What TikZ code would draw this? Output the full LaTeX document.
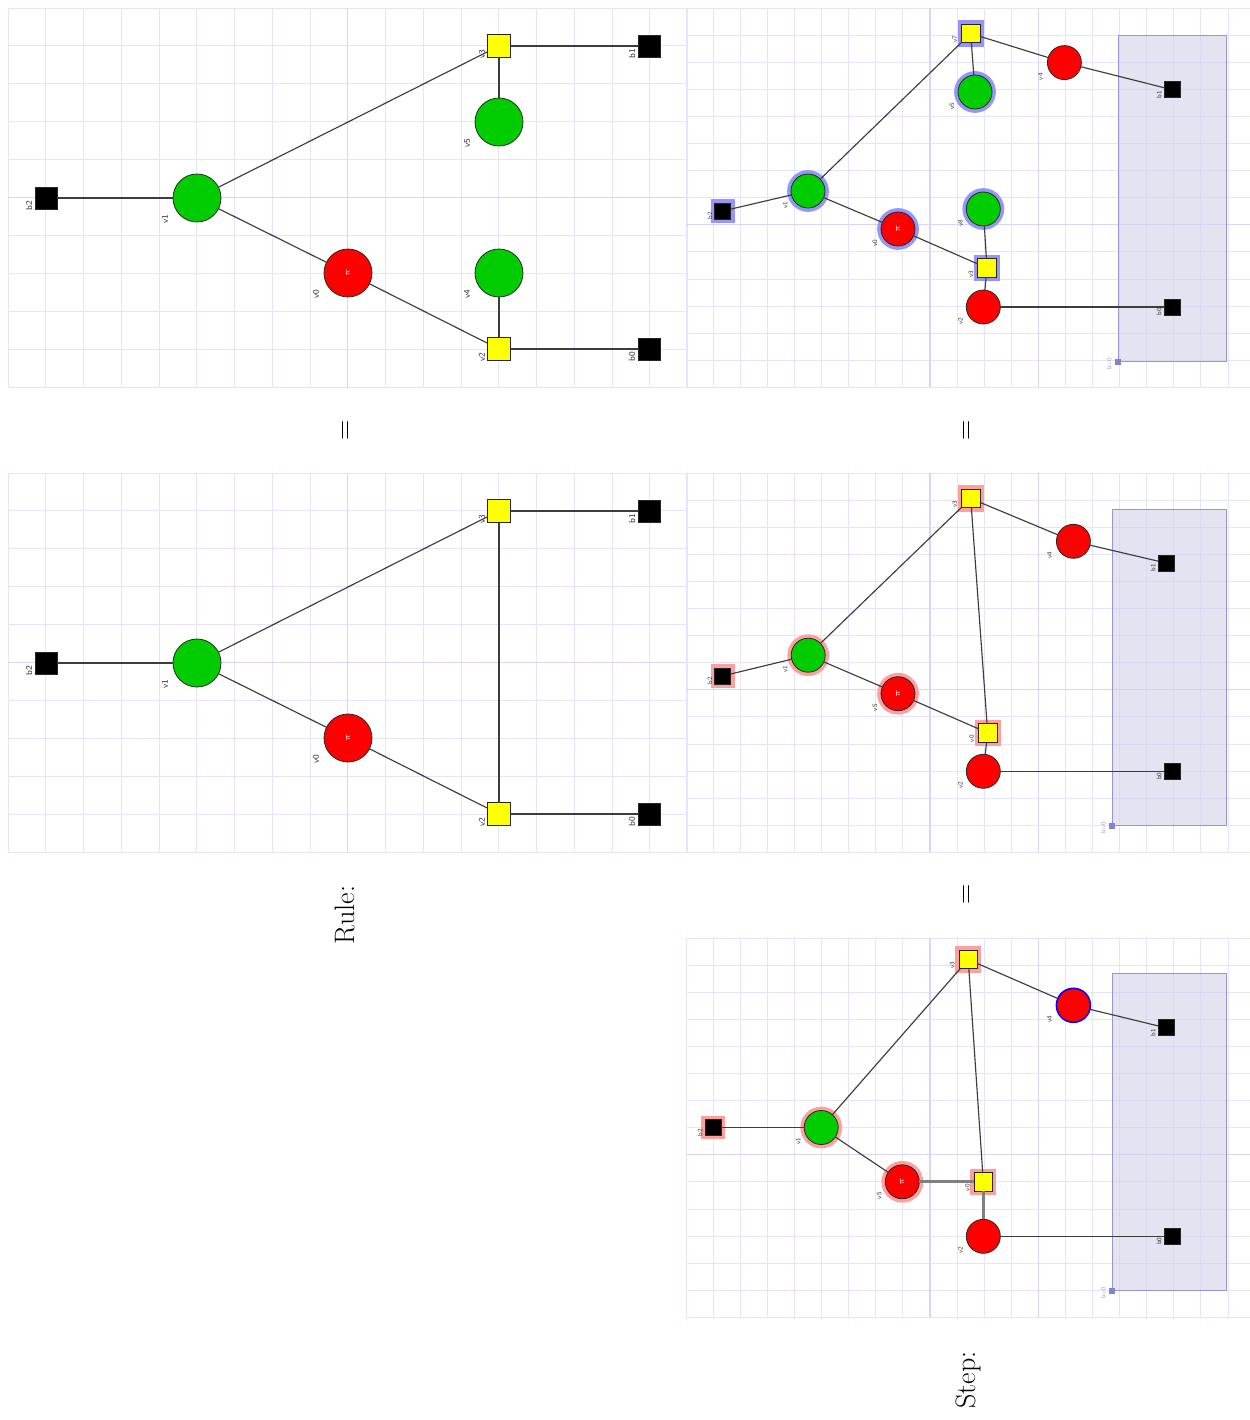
\documentclass[tikz,border=0pt]{standalone}
\definecolor{gridc}{RGB}{228,228,252}
\definecolor{gridd}{RGB}{214,214,242}
\definecolor{ngreen}{RGB}{0,204,0}
\definecolor{nred}{RGB}{255,0,0}
\definecolor{nyellow}{RGB}{255,255,0}
\definecolor{haloB}{RGB}{150,150,250}
\definecolor{haloP}{RGB}{255,160,160}
\definecolor{boxf}{RGB}{212,212,236}
\definecolor{boxd}{RGB}{150,150,215}
\definecolor{boxm}{RGB}{130,130,205}
\definecolor{edgec}{RGB}{60,60,60}
\tikzset{
 gl/.style={draw=gridc, line width=0.5pt},
 gd/.style={draw=gridd, line width=0.7pt},
 ed/.style={draw=edgec, line width=0.65pt},
 edthick/.style={draw=black!50, line width=1.5pt},
 vbase/.style={draw=black!85, line width=0.45pt, inner sep=0pt, outer sep=0pt},
 Lcirc/.style={vbase, circle, minimum size=0.96cm},
 Lsq/.style={vbase, rectangle, minimum size=0.46cm},
 Lbsq/.style={vbase, rectangle, minimum size=0.44cm, fill=black},
 Scirc/.style={vbase, circle, minimum size=0.68cm},
 Sysq/.style={vbase, rectangle, minimum size=0.37cm, fill=nyellow},
 Sbsq/.style={vbase, rectangle, minimum size=0.32cm, fill=black},
 hb/.style={preaction={draw=haloB, line width=4.4pt}},
 hp/.style={preaction={draw=haloP, line width=4.4pt}},
 labL/.style={font=\sffamily\fontsize{5}{5}\selectfont, rotate=90, inner sep=0pt, text=black!80},
 labS/.style={font=\sffamily\fontsize{3.8}{4}\selectfont, rotate=90, inner sep=0pt, text=black!80},
 labB/.style={font=\sffamily\fontsize{3.5}{4}\selectfont, rotate=90, inner sep=0pt, text=boxd},
 tinyw/.style={font=\fontsize{2.5}{3}\selectfont, text=white, rotate=90, inner sep=0pt},
 bigt/.style={font=\fontsize{16}{19}\selectfont, rotate=90, inner sep=0pt},
 bx/.style={fill=boxf, fill opacity=0.65, draw=boxd, line width=0.6pt},
 bxm/.style={fill=boxm, draw=none, minimum size=0.12cm, inner sep=0pt},
}
\newcommand{\vx}[7]{\node[#1] (#2) at (#3,#4) {}; \node[#5] (#2-l) at ([shift={(#6)}]#2.center) {#7};}
\newcommand{\lgrid}[1]{%
 \foreach \k in {0,...,18} {\draw[gl] ({8+37.75*\k},#1) -- ({8+37.75*\k},{#1+379});}
 \foreach \k in {0,...,10} {\draw[gl] (8,{#1+37.9*\k}) -- (687,{#1+37.9*\k});}
 \draw[gd] ({8+37.75*9},#1) -- ({8+37.75*9},{#1+379});
 \draw[gd] (8,{#1+37.9*5}) -- (687,{#1+37.9*5});}
\newcommand{\rgrid}[1]{%
 \foreach \k in {0,...,20} {\draw[gl] ({686+27.1*\k},#1) -- ({686+27.1*\k},{#1+379});}
 \foreach \k in {0,...,14} {\draw[gl] (686,{#1+27.1*\k}) -- (1250,{#1+27.1*\k});}
 \draw[gd] ({686+27.1*9},#1) -- ({686+27.1*9},{#1+379});
 \draw[gd] ({686+27.1*13},#1) -- ({686+27.1*13},{#1+379});
 \draw[gd] (686,{#1+27.1*8}) -- (1250,{#1+27.1*8});}
\begin{document}
\begin{tikzpicture}[x=0.02cm,y=-0.02cm]
\useasboundingbox (0,0) rectangle (1250,1420);
\fill[white] (0,0) rectangle (1250,1420);
% grids
\lgrid{8}
\lgrid{473}
\rgrid{8}
\rgrid{473}
\rgrid{938}
% boxes
\draw[bx] (1118.4,35.2) rectangle (1226.5,361.6);
\draw[bx] (1112.3,509.5) rectangle (1226.5,825.6);
\draw[bx] (1112.3,973.5) rectangle (1226.5,1290.6);
\node[bxm] (cm) at (1118.4,361.6) {};
\node[labB] (cm-l) at ([shift={(-9,2)}]cm.center) {b=0};
\node[bxm] (dm) at (1112.3,825.6) {};
\node[labB] (dm-l) at ([shift={(-9,2)}]dm.center) {b=0};
\node[bxm] (em) at (1112.3,1290.6) {};
\node[labB] (em-l) at ([shift={(-9,2)}]em.center) {b=0};
% ---------- Panel A (top-left) ----------
\vx{Lbsq}{ab2}{46}{198}{labL}{-17,8}{b2}
\vx{Lcirc,fill=ngreen}{av1}{197}{198}{labL}{-32,21}{v1}
\vx{Lcirc,fill=nred}{av0}{348}{273}{labL}{-32,21}{v0}
\node[tinyw] (av0t) at (av0) {$\pi$};
\vx{Lsq,fill=nyellow}{av3}{499}{46}{labL}{-17,8}{v3}
\vx{Lbsq}{ab1}{649}{46}{labL}{-17,8}{b1}
\vx{Lcirc,fill=ngreen}{av5}{499}{122}{labL}{-32,21}{v5}
\vx{Lcirc,fill=ngreen}{av4}{499}{273}{labL}{-32,21}{v4}
\vx{Lsq,fill=nyellow}{av2}{499}{349}{labL}{-17,8}{v2}
\vx{Lbsq}{ab0}{649}{349}{labL}{-17,8}{b0}
\draw[ed] (ab2) -- (av1);
\draw[ed] (av1) -- (av3);
\draw[ed] (av1) -- (av0);
\draw[ed] (av0) -- (av2);
\draw[ed] (av3) -- (av5);
\draw[ed] (av4) -- (av2);
\draw[ed] (av3) -- (ab1);
\draw[ed] (av2) -- (ab0);
% ---------- Panel B (middle-left) ----------
\vx{Lbsq}{bb2}{46}{663}{labL}{-17,8}{b2}
\vx{Lcirc,fill=ngreen}{bv1}{197}{663}{labL}{-32,21}{v1}
\vx{Lcirc,fill=nred}{bv0}{348}{738}{labL}{-32,21}{v0}
\node[tinyw] (bv0t) at (bv0) {$\pi$};
\vx{Lsq,fill=nyellow}{bv3}{499}{511}{labL}{-17,8}{v3}
\vx{Lbsq}{bb1}{649}{511}{labL}{-17,8}{b1}
\vx{Lsq,fill=nyellow}{bv2}{499}{814}{labL}{-17,8}{v2}
\vx{Lbsq}{bb0}{649}{814}{labL}{-17,8}{b0}
\draw[ed] (bb2) -- (bv1);
\draw[ed] (bv1) -- (bv3);
\draw[ed] (bv1) -- (bv0);
\draw[ed] (bv0) -- (bv2);
\draw[ed] (bv3) -- (bv2);
\draw[ed] (bv3) -- (bb1);
\draw[ed] (bv2) -- (bb0);
% ---------- Panel C (top-right) ----------
\vx{Sysq,hb}{cv7}{970.7}{33.5}{labS}{-16,6}{v7}
\vx{Scirc,fill=ngreen,hb}{cv5}{975}{92}{labS}{-23,14}{v5}
\vx{Scirc,fill=nred}{cv4}{1064.4}{62.6}{labS}{-24,14}{v4}
\vx{Sbsq}{cb1}{1172}{89.7}{labS}{-13,5}{b1}
\vx{Sbsq,hb}{cb2}{722.8}{211}{labS}{-13,5}{b2}
\vx{Scirc,fill=ngreen,hb}{cv1}{808}{191}{labS}{-23,14}{v1}
\vx{Scirc,fill=nred,hb}{cv0}{898}{229}{labS}{-23,14}{v0}
\node[tinyw] (cv0t) at (cv0) {$\pi$};
\vx{Scirc,fill=ngreen,hb}{cv8}{983.3}{209}{labS}{-23,14}{v8}
\vx{Sysq,hb}{cv3}{987}{268}{labS}{-16,6}{v3}
\vx{Scirc,fill=nred}{cv2}{983.3}{307}{labS}{-23,14}{v2}
\vx{Sbsq}{cb0}{1172}{307}{labS}{-13,5}{b0}
\draw[ed] (cb2) -- (cv1);
\draw[ed] (cv1) -- (cv7);
\draw[ed] (cv1) -- (cv0);
\draw[ed] (cv0) -- (cv3);
\draw[ed] (cv8) -- (cv3);
\draw[ed] (cv3) -- (cv2);
\draw[ed] (cv7) -- (cv5);
\draw[ed] (cv7) -- (cv4);
\draw[ed] (cv4) -- (cb1);
\draw[ed] (cv2) -- (cb0);
% ---------- Panel D (middle-right) ----------
\vx{Sysq,hp}{dv3}{970.7}{498.5}{labS}{-16,6}{v3}
\vx{Scirc,fill=nred}{dv4}{1073.4}{541.3}{labS}{-24,14}{v4}
\vx{Sbsq}{db1}{1166}{563}{labS}{-13,5}{b1}
\vx{Sbsq,hp}{db2}{722.8}{675.9}{labS}{-13,5}{b2}
\vx{Scirc,fill=ngreen,hp}{dv1}{808.2}{655.2}{labS}{-23,14}{v1}
\vx{Scirc,fill=nred,hp}{dv5}{898}{693.7}{labS}{-23,14}{v5}
\node[tinyw] (dv5t) at (dv5) {$\pi$};
\vx{Sysq,hp}{dv0}{987.7}{732.8}{labS}{-16,6}{v0}
\vx{Scirc,fill=nred}{dv2}{983.3}{771.3}{labS}{-23,14}{v2}
\vx{Sbsq}{db0}{1172}{771.3}{labS}{-13,5}{b0}
\draw[ed] (db2) -- (dv1);
\draw[ed] (dv1) -- (dv3);
\draw[ed] (dv1) -- (dv5);
\draw[ed] (dv5) -- (dv0);
\draw[ed] (dv3) -- (dv0);
\draw[ed] (dv3) -- (dv4);
\draw[ed] (dv4) -- (db1);
\draw[ed] (dv0) -- (dv2);
\draw[ed] (dv2) -- (db0);
% ---------- Panel E (bottom-right) ----------
\vx{Sysq,hp}{ev3}{968.2}{959.5}{labS}{-16,6}{v3}
\vx{Scirc,fill=nred,draw=blue,line width=0.9pt}{ev4}{1073.4}{1005.3}{labS}{-24,14}{v4}
\vx{Sbsq}{eb1}{1166}{1027.8}{labS}{-13,5}{b1}
\vx{Sbsq,hp}{eb2}{713.1}{1127.5}{labS}{-13,5}{b2}
\vx{Scirc,fill=ngreen,hp}{ev1}{821.2}{1127.5}{labS}{-23,14}{v1}
\vx{Scirc,fill=nred,hp}{ev5}{902.3}{1181.8}{labS}{-23,14}{v5}
\node[tinyw] (ev5t) at (ev5) {$\pi$};
\vx{Sysq,hp}{ev0}{983.3}{1181.8}{labS}{-16,6}{v0}
\vx{Scirc,fill=nred}{ev2}{983.3}{1236.3}{labS}{-23,14}{v2}
\vx{Sbsq}{eb0}{1172}{1236.3}{labS}{-13,5}{b0}
\draw[ed] (eb2) -- (ev1);
\draw[ed] (ev1) -- (ev3);
\draw[ed] (ev1) -- (ev5);
\draw[edthick] (ev5) -- (ev0);
\draw[ed] (ev3) -- (ev0);
\draw[ed] (ev3) -- (ev4);
\draw[ed] (ev4) -- (eb1);
\draw[edthick] (ev0) -- (ev2);
\draw[ed] (ev2) -- (eb0);
% ---------- texts ----------
\node[bigt] (eq1) at (347,430) {=};
\node[bigt] (eq2) at (968,430) {=};
\node[bigt] (eq3) at (968,894) {=};
\node[bigt] (rule) at (345,915) {Rule:};
\node[bigt] (step) at (968,1380) {Step:};
\end{tikzpicture}
\end{document}
